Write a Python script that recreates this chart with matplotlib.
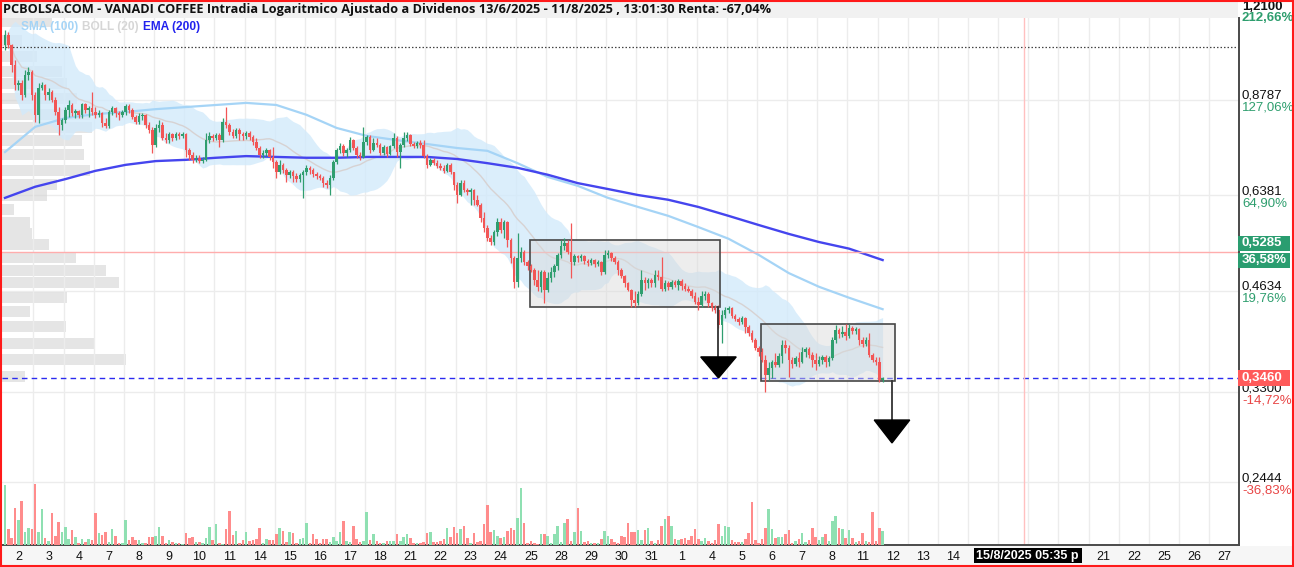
import numpy as np
import pandas as pd
import matplotlib
matplotlib.use("Agg")
import matplotlib.pyplot as plt
from matplotlib.patches import Rectangle, Polygon
from matplotlib.transforms import IdentityTransform
from matplotlib.ticker import NullLocator

# ------------------------------------------------------------------ data
TITLE = ("PCBOLSA.COM - VANADI COFFEE Intradia Logaritmico Ajustado a Dividenos "
         "13/6/2025 - 11/8/2025 , 13:01:30 Renta: -67,04%")

day_labels = ['2', '3', '4', '7', '8', '9', '10', '11', '14', '15', '16', '17', '18',
              '21', '22', '23', '24', '25', '28', '29', '30', '31', '1', '4', '5', '6',
              '7', '8', '11', '12', '13', '14', '15', '18', '19', '20', '21', '22',
              '25', '26', '27']

opens = [1.056, 1.092, 1.056, 0.988, 0.924, 0.930, 0.893, 0.955, 0.965,
         0.893, 0.836, 0.915, 0.924, 0.893, 0.902, 0.879, 0.844, 0.808,
         0.822, 0.850, 0.864, 0.841, 0.847, 0.836, 0.867, 0.850, 0.855,
         0.844, 0.836, 0.841, 0.813, 0.805, 0.844, 0.855, 0.841, 0.836,
         0.844, 0.861, 0.850, 0.830, 0.816, 0.833, 0.836, 0.808, 0.795,
         0.756, 0.800, 0.808, 0.774, 0.768, 0.784, 0.774, 0.784, 0.779,
         0.784, 0.743, 0.731, 0.719, 0.724, 0.716, 0.719, 0.768, 0.779,
         0.774, 0.781, 0.768, 0.816, 0.808, 0.789, 0.779, 0.795, 0.784,
         0.779, 0.787, 0.776, 0.763, 0.748, 0.731, 0.736, 0.743, 0.726,
         0.714, 0.690, 0.707, 0.695, 0.684, 0.690, 0.681, 0.674, 0.684,
         0.690, 0.700, 0.695, 0.686, 0.681, 0.677, 0.665, 0.661, 0.677,
         0.714, 0.743, 0.753, 0.736, 0.743, 0.768, 0.748, 0.731, 0.726,
         0.763, 0.776, 0.743, 0.761, 0.756, 0.736, 0.751, 0.733, 0.753,
         0.774, 0.738, 0.756, 0.774, 0.781, 0.758, 0.753, 0.761, 0.756,
         0.728, 0.707, 0.719, 0.711, 0.705, 0.700, 0.693, 0.707, 0.690,
         0.661, 0.639, 0.665, 0.650, 0.646, 0.650, 0.629, 0.618, 0.592,
         0.572, 0.553, 0.546, 0.565, 0.584, 0.568, 0.584, 0.550, 0.518,
         0.478, 0.518, 0.528, 0.511, 0.504, 0.497, 0.481, 0.470, 0.494,
         0.465, 0.484, 0.494, 0.504, 0.523, 0.539, 0.544, 0.528, 0.511,
         0.521, 0.518, 0.521, 0.512, 0.509, 0.514, 0.507, 0.511, 0.494,
         0.523, 0.526, 0.518, 0.511, 0.497, 0.487, 0.476, 0.465, 0.450,
         0.445, 0.458, 0.481, 0.476, 0.481, 0.476, 0.489, 0.486, 0.467,
         0.476, 0.470, 0.478, 0.473, 0.479, 0.472, 0.467, 0.463, 0.456,
         0.447, 0.442, 0.456, 0.459, 0.445, 0.438, 0.435, 0.414, 0.428,
         0.435, 0.438, 0.426, 0.422, 0.418, 0.423, 0.411, 0.403, 0.393,
         0.383, 0.378, 0.368, 0.350, 0.358, 0.365, 0.362, 0.373, 0.387,
         0.383, 0.368, 0.363, 0.370, 0.365, 0.378, 0.381, 0.374, 0.368,
         0.363, 0.368, 0.372, 0.365, 0.370, 0.393, 0.407, 0.401, 0.404,
         0.399, 0.410, 0.405, 0.408, 0.393, 0.388, 0.393, 0.374, 0.368, 0.365, 0.344]

closes = [1.092, 1.056, 0.988, 0.924, 0.930, 0.893, 0.955, 0.965, 0.893,
          0.836, 0.915, 0.924, 0.893, 0.902, 0.879, 0.844, 0.808, 0.822,
          0.850, 0.864, 0.841, 0.847, 0.836, 0.867, 0.850, 0.855, 0.844,
          0.836, 0.841, 0.813, 0.805, 0.844, 0.855, 0.841, 0.836, 0.844,
          0.861, 0.850, 0.830, 0.816, 0.833, 0.836, 0.808, 0.795, 0.756,
          0.800, 0.808, 0.774, 0.768, 0.784, 0.774, 0.784, 0.779, 0.784,
          0.743, 0.731, 0.719, 0.724, 0.716, 0.719, 0.768, 0.779, 0.774,
          0.781, 0.768, 0.816, 0.808, 0.789, 0.779, 0.795, 0.784, 0.779,
          0.787, 0.776, 0.763, 0.748, 0.731, 0.736, 0.743, 0.726, 0.714,
          0.690, 0.707, 0.695, 0.684, 0.690, 0.681, 0.674, 0.684, 0.690,
          0.700, 0.695, 0.686, 0.681, 0.677, 0.665, 0.661, 0.677, 0.714,
          0.743, 0.753, 0.736, 0.743, 0.768, 0.748, 0.731, 0.726, 0.763,
          0.776, 0.743, 0.761, 0.756, 0.736, 0.751, 0.733, 0.753, 0.774,
          0.738, 0.756, 0.774, 0.781, 0.758, 0.753, 0.761, 0.756, 0.728,
          0.707, 0.719, 0.711, 0.705, 0.700, 0.693, 0.707, 0.690, 0.661,
          0.639, 0.665, 0.650, 0.646, 0.650, 0.629, 0.618, 0.592, 0.572,
          0.553, 0.546, 0.565, 0.584, 0.568, 0.584, 0.550, 0.518, 0.478,
          0.518, 0.528, 0.511, 0.504, 0.497, 0.481, 0.470, 0.494, 0.465,
          0.484, 0.494, 0.504, 0.523, 0.539, 0.544, 0.528, 0.511, 0.521,
          0.518, 0.521, 0.512, 0.509, 0.514, 0.507, 0.511, 0.494, 0.523,
          0.526, 0.518, 0.511, 0.497, 0.487, 0.476, 0.465, 0.450, 0.445,
          0.458, 0.481, 0.476, 0.481, 0.476, 0.489, 0.486, 0.467, 0.476,
          0.470, 0.478, 0.473, 0.479, 0.472, 0.467, 0.463, 0.456, 0.447,
          0.442, 0.456, 0.459, 0.445, 0.438, 0.435, 0.414, 0.428, 0.435,
          0.438, 0.426, 0.422, 0.418, 0.423, 0.411, 0.403, 0.393, 0.383,
          0.378, 0.368, 0.350, 0.358, 0.365, 0.362, 0.373, 0.387, 0.383,
          0.368, 0.363, 0.370, 0.365, 0.378, 0.381, 0.374, 0.368, 0.363,
          0.368, 0.372, 0.365, 0.370, 0.393, 0.407, 0.401, 0.404, 0.399,
          0.410, 0.405, 0.408, 0.393, 0.388, 0.393, 0.374, 0.368, 0.365, 0.344, 0.346]

highs = [1.111, 1.103, 1.060, 1.005, 0.939, 0.939, 0.971, 0.981, 0.971,
         0.902, 0.930, 0.933, 0.927, 0.915, 0.908, 0.888, 0.858, 0.827,
         0.858, 0.879, 0.870, 0.853, 0.850, 0.870, 0.870, 0.861, 0.902,
         0.858, 0.850, 0.844, 0.827, 0.850, 0.861, 0.858, 0.847, 0.850,
         0.867, 0.867, 0.855, 0.836, 0.841, 0.841, 0.838, 0.816, 0.803,
         0.811, 0.822, 0.816, 0.787, 0.789, 0.787, 0.789, 0.789, 0.789,
         0.787, 0.748, 0.738, 0.731, 0.731, 0.726, 0.787, 0.789, 0.784,
         0.787, 0.787, 0.827, 0.858, 0.813, 0.797, 0.800, 0.800, 0.789,
         0.792, 0.792, 0.781, 0.774, 0.753, 0.743, 0.748, 0.746, 0.751,
         0.719, 0.719, 0.711, 0.700, 0.695, 0.695, 0.688, 0.688, 0.695,
         0.707, 0.705, 0.700, 0.690, 0.686, 0.681, 0.672, 0.684, 0.719,
         0.748, 0.761, 0.758, 0.748, 0.776, 0.771, 0.753, 0.738, 0.803,
         0.781, 0.781, 0.774, 0.774, 0.761, 0.756, 0.753, 0.756, 0.787,
         0.779, 0.761, 0.789, 0.789, 0.784, 0.763, 0.766, 0.768, 0.768,
         0.733, 0.724, 0.724, 0.719, 0.711, 0.707, 0.711, 0.711, 0.690,
         0.668, 0.672, 0.672, 0.654, 0.654, 0.652, 0.639, 0.622, 0.604,
         0.578, 0.559, 0.568, 0.592, 0.592, 0.588, 0.586, 0.553, 0.521,
         0.563, 0.537, 0.532, 0.514, 0.507, 0.500, 0.497, 0.497, 0.497,
         0.494, 0.502, 0.507, 0.526, 0.550, 0.553, 0.550, 0.582, 0.525,
         0.523, 0.525, 0.523, 0.516, 0.518, 0.516, 0.514, 0.512, 0.532,
         0.532, 0.528, 0.521, 0.514, 0.500, 0.489, 0.478, 0.467, 0.463,
         0.463, 0.497, 0.486, 0.484, 0.484, 0.497, 0.497, 0.519, 0.481,
         0.479, 0.481, 0.481, 0.482, 0.482, 0.476, 0.472, 0.467, 0.462,
         0.454, 0.463, 0.463, 0.462, 0.447, 0.442, 0.442, 0.435, 0.439,
         0.441, 0.439, 0.429, 0.425, 0.426, 0.425, 0.414, 0.407, 0.396,
         0.385, 0.383, 0.374, 0.365, 0.368, 0.376, 0.376, 0.393, 0.393,
         0.387, 0.372, 0.373, 0.378, 0.384, 0.384, 0.384, 0.378, 0.376,
         0.373, 0.374, 0.374, 0.373, 0.397, 0.414, 0.410, 0.412, 0.415,
         0.415, 0.412, 0.411, 0.410, 0.397, 0.397, 0.403, 0.376, 0.372, 0.372, 0.347]

lows = [1.039, 1.046, 0.965, 0.908, 0.908, 0.879, 0.888, 0.939, 0.879,
        0.816, 0.813, 0.908, 0.879, 0.879, 0.873, 0.836, 0.781, 0.795,
        0.813, 0.830, 0.833, 0.827, 0.827, 0.827, 0.841, 0.830, 0.836,
        0.827, 0.830, 0.803, 0.800, 0.800, 0.836, 0.830, 0.822, 0.830,
        0.836, 0.841, 0.824, 0.811, 0.811, 0.822, 0.800, 0.787, 0.736,
        0.751, 0.789, 0.768, 0.761, 0.761, 0.766, 0.768, 0.771, 0.774,
        0.726, 0.719, 0.711, 0.714, 0.711, 0.711, 0.716, 0.761, 0.766,
        0.768, 0.751, 0.763, 0.800, 0.781, 0.774, 0.774, 0.768, 0.768,
        0.771, 0.768, 0.756, 0.743, 0.724, 0.724, 0.728, 0.719, 0.700,
        0.677, 0.686, 0.688, 0.668, 0.677, 0.668, 0.668, 0.668, 0.633,
        0.684, 0.686, 0.679, 0.674, 0.672, 0.657, 0.654, 0.639, 0.672,
        0.709, 0.736, 0.728, 0.726, 0.738, 0.743, 0.724, 0.719, 0.724,
        0.756, 0.736, 0.741, 0.751, 0.731, 0.731, 0.726, 0.731, 0.748,
        0.726, 0.700, 0.751, 0.766, 0.753, 0.748, 0.748, 0.748, 0.724,
        0.700, 0.705, 0.707, 0.700, 0.695, 0.688, 0.690, 0.686, 0.650,
        0.622, 0.637, 0.646, 0.639, 0.618, 0.618, 0.616, 0.584, 0.565,
        0.548, 0.541, 0.541, 0.557, 0.563, 0.553, 0.537, 0.509, 0.468,
        0.470, 0.511, 0.506, 0.497, 0.494, 0.473, 0.463, 0.462, 0.445,
        0.462, 0.478, 0.486, 0.497, 0.518, 0.532, 0.525, 0.484, 0.506,
        0.511, 0.512, 0.507, 0.504, 0.506, 0.502, 0.504, 0.489, 0.491,
        0.518, 0.512, 0.507, 0.489, 0.484, 0.470, 0.463, 0.439, 0.439,
        0.442, 0.455, 0.465, 0.468, 0.470, 0.470, 0.481, 0.463, 0.463,
        0.465, 0.467, 0.470, 0.465, 0.465, 0.463, 0.462, 0.453, 0.444,
        0.435, 0.439, 0.450, 0.439, 0.433, 0.431, 0.410, 0.389, 0.423,
        0.431, 0.423, 0.419, 0.414, 0.415, 0.403, 0.399, 0.391, 0.380,
        0.373, 0.365, 0.330, 0.344, 0.346, 0.359, 0.359, 0.364, 0.376,
        0.348, 0.358, 0.361, 0.359, 0.364, 0.372, 0.370, 0.359, 0.356,
        0.361, 0.363, 0.359, 0.361, 0.368, 0.389, 0.396, 0.397, 0.393,
        0.396, 0.401, 0.401, 0.387, 0.384, 0.385, 0.372, 0.365, 0.362, 0.342, 0.342]

volumes = [60, 16, 7, 37, 25, 44, 13, 17, 16, 61,
           13, 36, 7, 4, 32, 9, 23, 13, 18, 6,
           15, 8, 2, 6, 3, 6, 5, 32, 12, 10,
           13, 3, 16, 9, 2, 2, 25, 5, 8, 5,
           5, 2, 2, 8, 8, 9, 18, 9, 2, 5,
           3, 2, 2, 1, 12, 7, 8, 3, 3, 2,
           7, 18, 5, 21, 2, 1, 16, 34, 10, 14,
           2, 5, 13, 4, 5, 6, 17, 2, 6, 5,
           5, 11, 17, 14, 3, 13, 12, 2, 6, 7,
           22, 2, 11, 6, 2, 6, 6, 3, 8, 4,
           13, 24, 4, 3, 19, 6, 3, 4, 33, 5,
           11, 4, 2, 2, 4, 4, 4, 11, 4, 8,
           11, 7, 2, 2, 2, 3, 12, 13, 3, 3,
           4, 6, 17, 8, 18,
           12, 16, 19, 7, 2, 12, 3, 4, 21, 40,
           13, 15, 9, 7, 8, 14, 17, 15, 27, 57,
           22, 2, 4, 2, 1, 11, 11, 9, 2, 11,
           19, 3, 22, 26, 4, 13, 37, 14, 3, 4,
           2, 2, 2, 6, 14, 9, 6, 3, 2,
           9, 8, 22, 13, 13, 15, 5, 15, 17, 4,
           2, 5, 19, 26, 29, 19, 6, 5, 6, 7,
           5, 9, 16, 6, 4, 7, 4, 2, 5, 21,
           9, 19, 18, 5, 3, 3, 3, 6, 12,
           43, 5, 2, 6, 17, 36, 16, 7, 8, 8,
           11, 15, 2, 4, 6, 12, 3, 5, 17, 8,
           5, 8, 11, 4, 24, 29, 17, 16, 7, 15,
           7, 3, 4, 12, 4, 3, 33, 4, 17, 14]

# SMA(100) and EMA(200) read once per session (start of each day) plus last bar
sma100_daily = [0.738, 0.803, 0.827, 0.838, 0.844, 0.852, 0.858, 0.864, 0.870, 0.864,
                0.836, 0.800, 0.779, 0.768, 0.758, 0.748, 0.741, 0.711, 0.679, 0.659,
                0.633, 0.614, 0.596, 0.574, 0.552, 0.523, 0.492, 0.470, 0.453, 0.436]
ema200_daily = [0.633, 0.657, 0.674, 0.693, 0.707, 0.716, 0.719, 0.724, 0.728, 0.726,
                0.724, 0.724, 0.726, 0.726, 0.726, 0.721, 0.711, 0.700, 0.684, 0.665,
                0.652, 0.639, 0.629, 0.614, 0.596, 0.578, 0.561, 0.546, 0.534, 0.514]

# volume profile (price level, relative volume)
profile_prices = [1.141, 1.074, 1.015, 0.968, 0.927, 0.882, 0.838, 0.800, 0.766, 0.731,
                  0.693, 0.663, 0.639, 0.608, 0.582, 0.561, 0.541, 0.519, 0.497, 0.476,
                  0.454, 0.432, 0.411, 0.389, 0.368, 0.348]
profile_volume = [50, 20, 35, 60, 65, 75, 88, 90, 80, 82,
                  88, 55, 45, 12, 28, 30, 47, 74, 104, 117,
                  65, 28, 64, 93, 124, 23]

# right axis ticks
tick_prices = [1.2100, 0.8787, 0.6381, 0.4634, 0.3300, 0.2444]
tick_texts = ['1,2100', '0,8787', '0,6381', '0,4634', '0,3300', '0,2444']
tick_pcts = ['212,66%', '127,06%', '64,90%', '19,76%', '-14,72%', '-36,83%']

last_price, last_text = 0.3460, '0,3460'
ref_price, ref_text, ref_pct = 0.5285, '0,5285', '36,58%'
dotted_level = 1.049

# annotation boxes (bar index range, price range) and arrows
box1 = (156.7, 213.4, 0.439, 0.550)
box2 = (225.7, 265.7, 0.343, 0.415)
arrow1 = (213.0, 0.439, 0.3716, 0.3463)   # x, line top, triangle base, tip
arrow2 = (264.8, 0.343, 0.3008, 0.2786)
crosshair_bar = 304.2
crosshair_text = '15/8/2025 05:35 p'

# ------------------------------------------------------------------ setup
W, H, DPI = 1294, 567, 100
BARS_PER_DAY = 9
AX_L, AX_R, AX_T, AX_B = 2, 1239, 18, 545
YLIM = (0.19793, 1.15614)
XLIM = (-0.9, 368.4)

GREEN = '#2f9e6f'
RED = '#f25656'
VGREEN = '#8fe0b2'
VRED = '#ff8c8c'
SANS = ['Liberation Sans', 'DejaVu Sans']

o = np.array(opens); c = np.array(closes); hi = np.array(highs); lo = np.array(lows)
vol = np.array(volumes, dtype=float)
n = len(c)
x = np.arange(n)
up = c >= o

fig = plt.figure(figsize=(W / DPI, H / DPI), dpi=DPI)
fig.patch.set_facecolor('white')
rect = [AX_L / W, 1 - AX_B / H, (AX_R - AX_L) / W, (AX_B - AX_T) / H]

ax_bg = fig.add_axes(rect, zorder=0)
ax = fig.add_axes(rect, zorder=1)
ax_vol = fig.add_axes(rect, zorder=2)

for a in (ax_bg, ax):
    a.set_yscale('log')
    a.set_ylim(*YLIM)
    a.yaxis.set_major_locator(NullLocator())
    a.yaxis.set_minor_locator(NullLocator())
ax_bg.set_xlim(0, AX_R - AX_L)
ax.set_xlim(*XLIM)
ax_vol.set_xlim(*XLIM)
ax_vol.set_ylim(0, vol.max() * 8.6)
ax_bg.axis('off')
ax_vol.axis('off')
ax.patch.set_visible(False)

# grid
for p in tick_prices:
    ax_bg.axhline(p, color='#ececec', lw=1.0, zorder=0)
n_days = len(day_labels)
for d in range(1, n_days + 1):
    ax.axvline(d * BARS_PER_DAY - 0.5, color='#ececec', lw=1.0, zorder=0.2)

# volume profile
half = 1.0186
pp = np.array(profile_prices)
ax_bg.barh(pp / half, profile_volume, height=pp * half - pp / half, align='edge',
           left=0, color='#d4d4d4', alpha=0.6, lw=0, zorder=1)

# Bollinger
cs = pd.Series(c)
mid = cs.rolling(20, min_periods=1).mean()
sd = cs.rolling(20, min_periods=1).std(ddof=0)
ax.fill_between(x, mid - 2 * sd, mid + 2 * sd, color='#d2eafb', alpha=0.8, lw=0, zorder=1)
ax.plot(x, mid, color='#d7d2d2', lw=1.0, zorder=1.2)

# SMA / EMA
day_x = list(range(0, BARS_PER_DAY * (len(sma100_daily) - 1), BARS_PER_DAY)) + [n - 1]
ax.plot(day_x, sma100_daily, color='#a5d4f6', lw=1.6, zorder=1.5)
ax.plot(day_x, ema200_daily, color='#4545ee', lw=1.7, zorder=1.6)

# reference lines
ax.axhline(dotted_level, color='#444444', lw=0.9, ls=(0, (1.2, 1.6)), zorder=1.8)
ax.axhline(ref_price, color='#ffadad', lw=1.0, zorder=1.8)
ax.axhline(last_price, color='#2b2bf0', lw=1.0, ls=(0, (4, 3)), zorder=1.8)
ax.axvline(crosshair_bar, color='#ffc0c0', lw=1.0, zorder=1.8)

# boxes
for (x0, x1, y0, y1) in (box1, box2):
    ax.add_patch(Rectangle((x0, y0), x1 - x0, y1 - y0, facecolor='#d9d9d9', alpha=0.45,
                           edgecolor='none', zorder=2))
    ax.add_patch(Rectangle((x0, y0), x1 - x0, y1 - y0, facecolor='none',
                           edgecolor='#474747', lw=1.2, zorder=2.1))

# candles
cols = np.where(up, GREEN, RED)
ax.vlines(x, lo, hi, colors=cols, lw=0.9, zorder=3)
body_lo = np.minimum(o, c)
body_h = np.maximum(np.abs(c - o), 0.0012)
ax.bar(x, body_h, bottom=body_lo, width=0.76, color=cols, lw=0, zorder=4)

# arrows
for (ax_x, top, base, tip) in (arrow1, arrow2):
    ax.plot([ax_x, ax_x], [top, base], color='#333333', lw=1.3, zorder=5)
    ax.add_patch(Polygon([(ax_x - 5.3, base), (ax_x + 5.3, base), (ax_x, tip)],
                         closed=True, facecolor='black', edgecolor='black', zorder=5))

# volume bars
ax_vol.bar(x, vol, width=0.76, color=np.where(up, VGREEN, VRED), lw=0, zorder=2)

# axes styling
for s in ('left', 'top'):
    ax.spines[s].set_visible(False)
for s in ('bottom', 'right'):
    ax.spines[s].set_color('#4a4a4a')
    ax.spines[s].set_linewidth(1.4)

fig.canvas.draw()
idt = IdentityTransform()


def xdisp(b):
    return ax.transData.transform((b, 1))[0]


def ydisp(p):
    return ax.transData.transform((0, p))[1]


# crosshair date box span (labels underneath it are hidden, as in the reference)
xc = xdisp(crosshair_bar)
DBOX_L, DBOX_W = xc - 50, 108
tick_pos, tick_lab = [], []
for d, lab in enumerate(day_labels):
    pos = BARS_PER_DAY * d + 4
    if DBOX_L - 8 <= xdisp(pos) <= DBOX_L + DBOX_W + 4:
        continue
    tick_pos.append(pos)
    tick_lab.append(lab)
ax.set_xticks(tick_pos)
ax.set_xticklabels(tick_lab, fontsize=9, family=SANS, color='#111111')
ax.tick_params(axis='x', length=0, pad=4)
ax.tick_params(axis='y', length=0)

# right axis labels
for i, (p, t, pc) in enumerate(zip(tick_prices, tick_texts, tick_pcts)):
    pc_col = '#e84545' if pc.startswith('-') else '#2e9e6e'
    if i == 0:   # top label sits just inside the picture
        yb = H - 10
        fig.text(AX_R + 3, yb, t, transform=idt, ha='left', va='baseline', fontsize=9.5,
                 family=SANS, color='#111111', fontweight='bold', zorder=9)
        fig.text(AX_R + 3, yb - 2, pc, transform=idt, ha='left', va='top', fontsize=9.5,
                 family=SANS, color=pc_col, fontweight='bold', zorder=9)
        continue
    ax.annotate(t, xy=(1, p), xycoords=('axes fraction', 'data'), xytext=(3, 1),
                textcoords='offset pixels', ha='left', va='baseline', fontsize=9.5,
                family=SANS, color='#111111', annotation_clip=False)
    ax.annotate(pc, xy=(1, p), xycoords=('axes fraction', 'data'), xytext=(3, -2),
                textcoords='offset pixels', ha='left', va='top', fontsize=9.5,
                family=SANS, color=pc_col, annotation_clip=False)

yr = ydisp(ref_price)
for (yb, txt) in ((yr + 1, ref_text), (yr - 16, ref_pct)):
    fig.add_artist(Rectangle((AX_R - 1, yb), 52, 15, transform=idt, facecolor='#2a9d70',
                             edgecolor='none', zorder=8))
    fig.text(AX_R + 3, yb + 7.5, txt, transform=idt, color='white', fontsize=9.5,
             fontweight='bold', family=SANS, va='center', ha='left', zorder=9)
yl = ydisp(last_price)
fig.add_artist(Rectangle((AX_R - 1, yl - 8), 52, 16, transform=idt, facecolor='#ff5a5a',
                         edgecolor='none', zorder=8))
fig.text(AX_R + 3, yl, last_text, transform=idt, color='white', fontsize=9.5,
         fontweight='bold', family=SANS, va='center', ha='left', zorder=9)

# crosshair date box
fig.add_artist(Rectangle((DBOX_L, H - 563), DBOX_W, 15, transform=idt, facecolor='black',
                         edgecolor='none', zorder=8))
fig.text(DBOX_L + 2, H - 555.5, crosshair_text, transform=idt, color='white', fontsize=9,
         fontweight='bold', family=SANS, va='center', ha='left', zorder=9)

# bands (title / bottom)
fig.add_artist(Rectangle((0, 1 - AX_T / H), (AX_R - 1) / W, AX_T / H, transform=fig.transFigure,
                         facecolor='#f1f1f1', edgecolor='none', zorder=-1))
fig.add_artist(Rectangle((0, 0), 1, (H - AX_B - 1) / H, transform=fig.transFigure,
                         facecolor='#f6f6f6', edgecolor='none', zorder=-1))

# title & legend
fig.text(3, H - 9, TITLE, transform=idt, fontsize=9.2, fontweight='bold',
         family=['Open Sans', 'DejaVu Sans'], va='center', ha='left', color='#111111', zorder=9)
for (lx, txt, col) in ((21, 'SMA (100)', '#a5d4f6'), (82, 'BOLL (20)', '#d6d6d6'),
                       (143, 'EMA (200)', '#2222ee')):
    fig.text(lx, H - 27, txt, transform=idt, fontsize=8.6, family=SANS, color=col,
             fontweight='bold', va='center', ha='left', zorder=9)

# frame
fig.add_artist(Rectangle((1, 1), W - 2, H - 2, transform=idt, fill=False,
                         edgecolor='#ff1a1a', lw=1.5, zorder=20))

fig.savefig('out.png', dpi=DPI)
